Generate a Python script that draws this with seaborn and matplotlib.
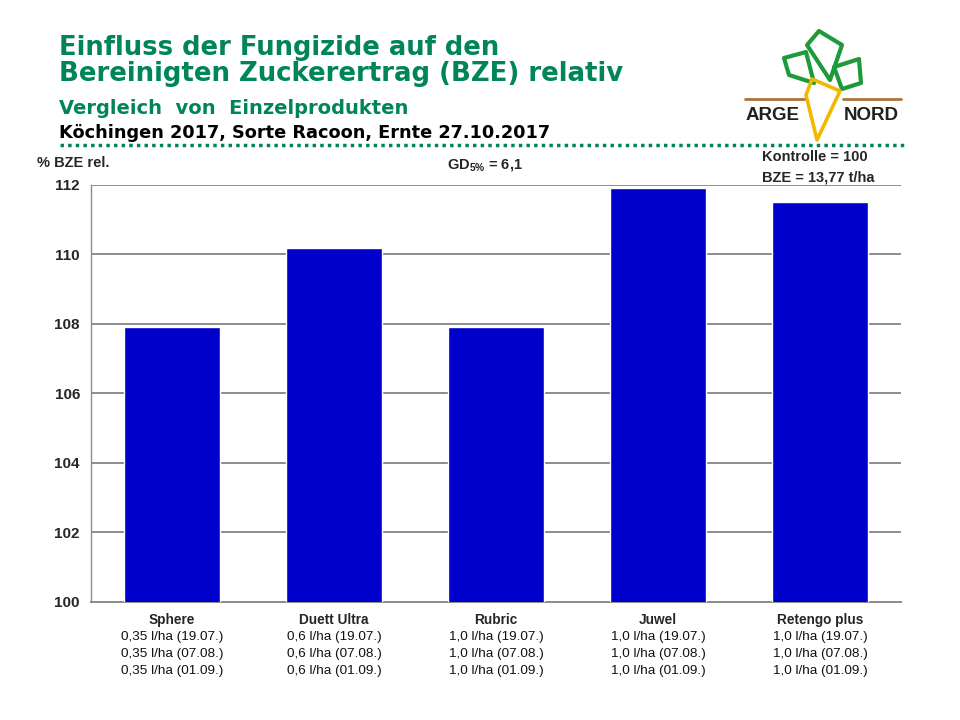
import matplotlib
matplotlib.use("Agg")
import matplotlib.pyplot as plt
import seaborn as sns
import pandas as pd
from matplotlib.patches import Polygon
from matplotlib.lines import Line2D

# ---- data ----
products = ["Sphere", "Duett Ultra", "Rubric", "Juwel", "Retengo plus"]
bze_rel = [107.9, 110.2, 107.9, 111.9, 111.5]
dose_19_07 = ["0,35 l/ha (19.07.)", "0,6 l/ha (19.07.)", "1,0 l/ha (19.07.)", "1,0 l/ha (19.07.)", "1,0 l/ha (19.07.)"]
dose_07_08 = ["0,35 l/ha (07.08.)", "0,6 l/ha (07.08.)", "1,0 l/ha (07.08.)", "1,0 l/ha (07.08.)", "1,0 l/ha (07.08.)"]
dose_01_09 = ["0,35 l/ha (01.09.)", "0,6 l/ha (01.09.)", "1,0 l/ha (01.09.)", "1,0 l/ha (01.09.)", "1,0 l/ha (01.09.)"]
y_ticks = [100, 102, 104, 106, 108, 110, 112]

sns.set_style("white")
plt.rcParams["font.family"] = ["Liberation Sans", "DejaVu Sans"]
plt.rcParams["mathtext.fontset"] = "custom"
plt.rcParams["mathtext.rm"] = "Liberation Sans:bold"
plt.rcParams["mathtext.default"] = "rm"

W, H = 960, 720
fig = plt.figure(figsize=(W / 100, H / 100), dpi=100)

def fx(x):
    return x / W

def fy(y):
    return 1 - y / H

ax = fig.add_axes([fx(91), fy(602), fx(901) - fx(91), fy(185) - fy(602)])
df = pd.DataFrame({"product": products, "value": bze_rel})
sns.barplot(data=df, x="product", y="value", color="#0000CC", saturation=1,
            width=0.59, ax=ax, zorder=3)
ax.set_ylim(100, 112)
ax.set_xlim(-0.5, len(products) - 0.5)
ax.set_yticks(y_ticks)
ax.set_yticklabels([str(t) for t in y_ticks], fontsize=11, fontweight="bold")
ax.yaxis.grid(True, color="#8c8c8c", linewidth=1.4, zorder=0)
ax.set_axisbelow(True)
for s in ["top", "right"]:
    ax.spines[s].set_visible(False)
ax.spines["left"].set_color("#8c8c8c")
ax.spines["left"].set_linewidth(1.0)
ax.spines["bottom"].set_color("#8c8c8c")
ax.spines["bottom"].set_linewidth(1.4)
ax.tick_params(axis="y", direction="out", length=6, width=1.2, color="#8c8c8c", pad=2)
ax.tick_params(axis="x", length=0, pad=8)
ax.set_xticks(range(len(products)))
ax.set_xticklabels(products, fontsize=9.8, fontweight="bold")
ax.set_xlabel("")
ax.set_ylabel("")

trans = ax.get_xaxis_transform()
for i in range(len(products)):
    for k, lines in enumerate([dose_19_07, dose_07_08, dose_01_09]):
        ax.text(i, -0.084 - k * 0.041, lines[i], transform=trans, ha="center",
                va="center", fontsize=9.7, color="#111111")

# ---- titles ----
green = "#00855A"
tfam = ["DejaVu Sans"]
fig.text(fx(59), fy(55), "Einfluss der Fungizide auf den", fontsize=18.6, family=tfam,
         fontweight="bold", color=green, va="baseline", ha="left")
fig.text(fx(59), fy(81), "Bereinigten Zuckerertrag (BZE) relativ", fontsize=18.7, family=tfam,
         fontweight="bold", color=green, va="baseline", ha="left")
fig.text(fx(59), fy(114), "Vergleich  von  Einzelprodukten", fontsize=14, family=tfam,
         fontweight="bold", color=green, va="baseline", ha="left")
fig.text(fx(59), fy(138), "Köchingen 2017, Sorte Racoon, Ernte 27.10.2017", fontsize=12.8,
         family=tfam, fontweight="bold", color="black", va="baseline", ha="left")

fig.add_artist(Line2D([fx(60), fx(905)], [fy(145), fy(145)], color=green,
                      linewidth=2.5, linestyle=(0, (1, 1.2)), transform=fig.transFigure))

# ---- annotations ----
fig.text(fx(37), fy(163), "% BZE rel.", fontsize=10.5, fontweight="bold", va="center", ha="left")
fig.text(fx(447), fy(165), r"GD$_{5\%}$ = 6,1", fontsize=10.5, fontweight="bold",
         va="center", ha="left")
fig.text(fx(762), fy(157), "Kontrolle = 100", fontsize=10.5, fontweight="bold", va="center", ha="left")
fig.text(fx(762), fy(177), "BZE = 13,77 t/ha", fontsize=10.5, fontweight="bold", va="center", ha="left")

# ---- logo ----
def poly(points, color, lw=2.2, fill=False):
    p = Polygon([(fx(x), fy(y)) for x, y in points], closed=True, fill=fill,
                edgecolor=color, facecolor=color if fill else "none", linewidth=lw,
                transform=fig.transFigure, joinstyle="round")
    fig.add_artist(p)

leaf = "#1E9A3A"
poly([(819, 31), (842, 45), (830, 80), (807, 45)], leaf, lw=3)
poly([(784, 58), (806, 52), (814, 83), (789, 75)], leaf, lw=3)
poly([(834, 67), (859, 59), (861, 83), (842, 89)], leaf, lw=3)
brown = "#B0703A"
fig.add_artist(Line2D([fx(745), fx(804)], [fy(99), fy(99)], color=brown, linewidth=2,
                      transform=fig.transFigure))
fig.add_artist(Line2D([fx(843), fx(901)], [fy(99), fy(99)], color=brown, linewidth=2,
                      transform=fig.transFigure))
poly([(812, 79), (840, 91), (817, 140), (806, 95)], "#F2B800", lw=2.6)
fig.text(fx(773), fy(115), "ARGE", fontsize=13.5, fontweight="bold", color="#231F20",
         ha="center", va="center")
fig.text(fx(871), fy(115), "NORD", fontsize=13.5, fontweight="bold", color="#231F20",
         ha="center", va="center")

fig.savefig("out.png", dpi=100, facecolor="white")
